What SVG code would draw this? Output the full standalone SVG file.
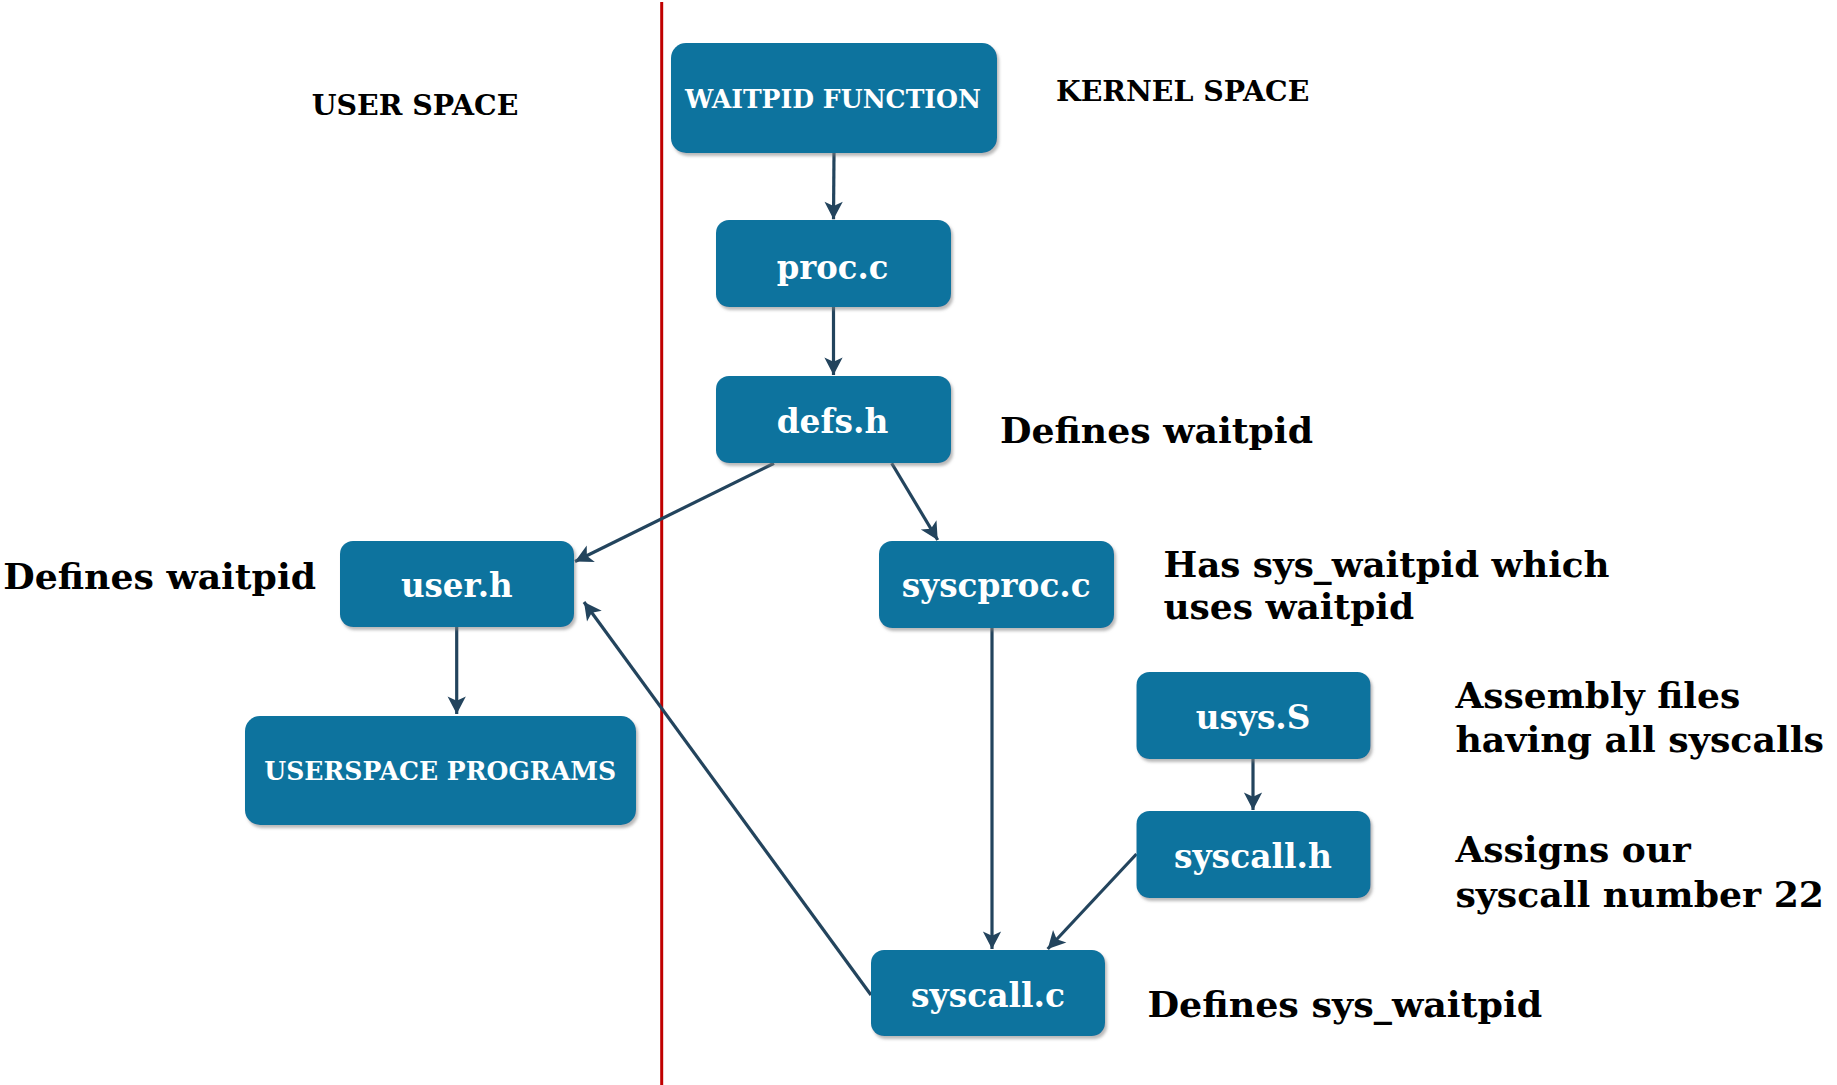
<svg xmlns="http://www.w3.org/2000/svg" width="1837" height="1085" viewBox="0 0 1837 1085">
<style>
.box{fill:#10739E;filter:url(#sh)}
.bl{font-family:"DejaVu Serif","Liberation Serif",serif;font-weight:bold;fill:#ffffff;text-anchor:middle}
.big{font-size:34px}
.cap{font-size:26px}
.hd{font-family:"DejaVu Serif","Liberation Serif",serif;font-weight:bold;font-size:28px;fill:#000}
.an{font-family:"DejaVu Serif","Liberation Serif",serif;font-weight:bold;font-size:36px;fill:#000}
.cn{stroke:#23445D;stroke-width:3.2;fill:none;marker-end:url(#ah)}
</style>
<defs>
<filter id="sh" x="-10%" y="-10%" width="120%" height="130%">
<feDropShadow dx="2" dy="3" stdDeviation="1.5" flood-color="#808080" flood-opacity="0.55"/>
</filter>
<marker id="ah" markerUnits="userSpaceOnUse" markerWidth="22" markerHeight="22" viewBox="-1 -10 19 20" refX="16" refY="0" orient="auto">
<path d="M0,-8.3 L16,0 L0,8.3 L4,0 Z" fill="#23445D"/>
</marker>
</defs>
<rect width="1837" height="1085" fill="#ffffff"/>
<line x1="661.7" y1="2" x2="661.7" y2="1085" stroke="#C00000" stroke-width="3"/>
<g id="labels">
<text class="hd" x="311.7" y="114.6" textLength="206.7" lengthAdjust="spacingAndGlyphs">USER SPACE</text>
<text class="hd" x="1056" y="101" textLength="253.3" lengthAdjust="spacingAndGlyphs">KERNEL SPACE</text>
<text class="an" x="1000" y="443" textLength="313" lengthAdjust="spacingAndGlyphs">Defines waitpid</text>
<text class="an" x="3.3" y="589.3" textLength="312.7" lengthAdjust="spacingAndGlyphs">Defines waitpid</text>
<text class="an" x="1163.4" y="576.5" textLength="446.2" lengthAdjust="spacingAndGlyphs">Has sys_waitpid which</text>
<text class="an" x="1163.4" y="618.7">uses waitpid</text>
<text class="an" x="1455.4" y="707.8">Assembly files</text>
<text class="an" x="1455.4" y="751.9" textLength="368.6" lengthAdjust="spacingAndGlyphs">having all syscalls</text>
<text class="an" x="1455.4" y="862">Assigns our</text>
<text class="an" x="1455.4" y="906.7" textLength="368.6" lengthAdjust="spacingAndGlyphs">syscall number 22</text>
<text class="an" x="1147.5" y="1016.8" textLength="394.8" lengthAdjust="spacingAndGlyphs">Defines sys_waitpid</text>
</g>
<g id="connectors">
<line class="cn" x1="834" y1="153" x2="833.5" y2="219.3"/>
<line class="cn" x1="833.5" y1="307" x2="833.5" y2="375"/>
<line class="cn" x1="774" y1="463.3" x2="575" y2="561.5"/>
<line class="cn" x1="891.7" y1="463.3" x2="937.7" y2="540"/>
<line class="cn" x1="456.7" y1="627" x2="456.7" y2="714"/>
<line class="cn" x1="992" y1="628" x2="992" y2="949"/>
<line class="cn" x1="1253" y1="759" x2="1253" y2="810"/>
<line class="cn" x1="1136.5" y1="854" x2="1047.7" y2="949"/>
<line class="cn" x1="871" y1="995" x2="584" y2="602"/>
</g>
<g id="waitpid-function">
<rect class="box" x="671" y="43" width="326" height="110" rx="15" ry="15"/>
<text class="bl cap" x="833" y="108" textLength="296" lengthAdjust="spacingAndGlyphs">WAITPID FUNCTION</text>
</g>
<g id="proc-c">
<rect class="box" x="716" y="220" width="235" height="87" rx="13" ry="13"/>
<text class="bl big" x="832.5" y="279.3" textLength="111.6" lengthAdjust="spacingAndGlyphs">proc.c</text>
</g>
<g id="defs-h">
<rect class="box" x="716" y="376" width="235" height="87" rx="13" ry="13"/>
<text class="bl big" x="832.5" y="433.3" textLength="111.7" lengthAdjust="spacingAndGlyphs">defs.h</text>
</g>
<g id="user-h">
<rect class="box" x="340" y="541" width="234" height="86" rx="13" ry="13"/>
<text class="bl big" x="456.8" y="597.3" textLength="111.7" lengthAdjust="spacingAndGlyphs">user.h</text>
</g>
<g id="userspace-programs">
<rect class="box" x="245" y="716" width="391" height="109" rx="15" ry="15"/>
<text class="bl cap" x="440.2" y="780" textLength="351.7" lengthAdjust="spacingAndGlyphs">USERSPACE PROGRAMS</text>
</g>
<g id="syscproc-c">
<rect class="box" x="879" y="541" width="235" height="87" rx="13" ry="13"/>
<text class="bl big" x="996.2" y="597.3" textLength="189" lengthAdjust="spacingAndGlyphs">syscproc.c</text>
</g>
<g id="usys-s">
<rect class="box" x="1136.5" y="672" width="234" height="87" rx="13" ry="13"/>
<text class="bl big" x="1253" y="729.3" textLength="114.7" lengthAdjust="spacingAndGlyphs">usys.S</text>
</g>
<g id="syscall-h">
<rect class="box" x="1136.5" y="811" width="234" height="87" rx="13" ry="13"/>
<text class="bl big" x="1252.9" y="868.3" textLength="157.8" lengthAdjust="spacingAndGlyphs">syscall.h</text>
</g>
<g id="syscall-c">
<rect class="box" x="871" y="950" width="234" height="86" rx="13" ry="13"/>
<text class="bl big" x="988" y="1007.3" textLength="154" lengthAdjust="spacingAndGlyphs">syscall.c</text>
</g>
</svg>
